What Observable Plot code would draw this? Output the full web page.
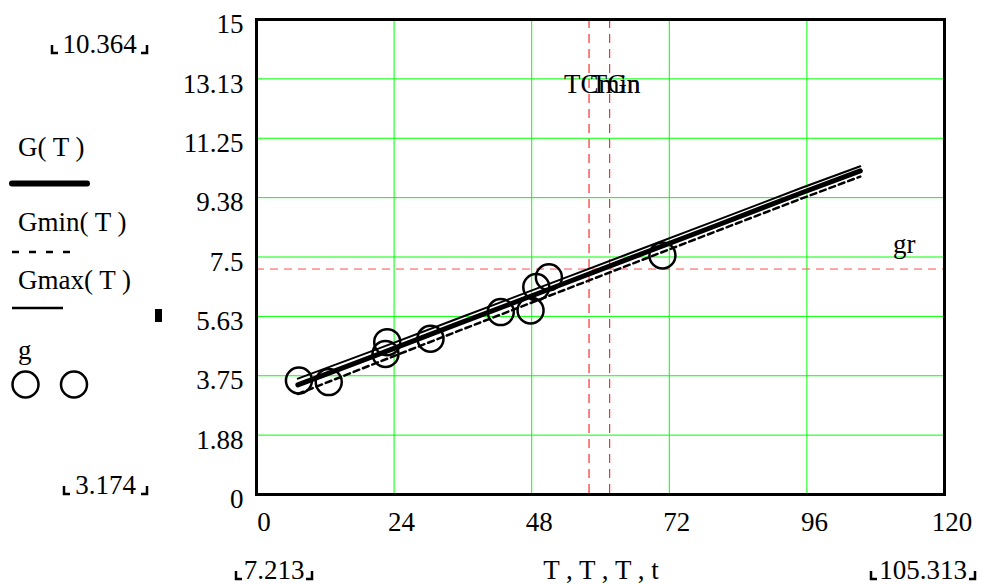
<!DOCTYPE html>
<html>
<head>
<meta charset="utf-8">
<script src="https://cdn.jsdelivr.net/npm/d3@7"></script>
<script src="https://cdn.jsdelivr.net/npm/@observablehq/plot@0.6"></script>
<style>
  html, body { margin: 0; padding: 0; background: #ffffff; }
  #chart { width: 982px; height: 584px; }
</style>
</head>
<body>
<div id="chart"></div>
<script>
// ---- data ----
const xTicks = [0, 24, 48, 72, 96, 120];
const yTicks = [0, 1.875, 3.75, 5.625, 7.5, 9.375, 11.25, 13.125, 15];
const yTickLabels = ["0", "1.88", "3.75", "5.63", "7.5", "9.38", "11.25", "13.13", "15"];

const T = [7.213, 20, 35, 50, 65, 80, 95, 105.313];
const G = [3.46, 4.34, 5.38, 6.41, 7.45, 8.48, 9.52, 10.22];
const Gmin = [3.174, 4.09, 5.15, 6.20, 7.25, 8.30, 9.34, 10.04];
const Gmax = [3.66, 4.52, 5.55, 6.58, 7.61, 8.64, 9.68, 10.364];

const t = [7.4, 12.6, 22.8, 22.5, 30.35, 42.6, 47.8, 48.8, 51.0, 70.8];
const g = [3.60, 3.55, 4.81, 4.44, 4.92, 5.76, 5.81, 6.55, 6.86, 7.55];

const xMarkers = [58.0, 61.6];
const xMarkerLabels = ["TCmin", "TGn"];
const gr = 7.12;
const grLabel = "gr";

const legendLabels = ["G( T )", "Gmin( T )", "Gmax( T )", "g"];
const cornerLabels = { yMax: "10.364", yMin: "3.174", xMin: "7.213", xMax: "105.313", xTitle: "T , T , T , t" };

// ---- build ----
const font = "'Liberation Serif', 'Times New Roman', serif";
const lineRows = T.map((d, i) => ({ T: d, G: G[i], Gmin: Gmin[i], Gmax: Gmax[i] }));
const pts = t.map((d, i) => ({ t: d, g: g[i] }));

const plot = Plot.plot({
  width: 982,
  height: 584,
  marginLeft: 256,
  marginRight: 38,
  marginTop: 19,
  marginBottom: 90,
  style: { fontFamily: font, fontSize: "27px", color: "black", background: "white", overflow: "visible" },
  x: { domain: [0, 120], axis: null },
  y: { domain: [0, 15], axis: null },
  marks: [
    Plot.gridX(xTicks, { stroke: "#00ff00", strokeOpacity: 1, strokeWidth: 1 }),
    Plot.gridY(yTicks, { stroke: "#00ff00", strokeOpacity: 1, strokeWidth: 1 }),
    Plot.ruleX(xMarkers, { stroke: "#ff0000", strokeWidth: 1, strokeDasharray: "9,6" }),
    Plot.ruleY([gr], { stroke: "#ff4d4d", strokeWidth: 1, strokeDasharray: "8,6" }),
    Plot.line(lineRows, { x: "T", y: "Gmin", stroke: "black", strokeWidth: 2.5, strokeDasharray: "6,4" }),
    Plot.line(lineRows, { x: "T", y: "Gmax", stroke: "black", strokeWidth: 2 }),
    Plot.line(lineRows, { x: "T", y: "G", stroke: "black", strokeWidth: 5 }),
    Plot.dot(pts, { x: "t", y: "g", r: 13, stroke: "black", strokeWidth: 2.5, fill: "none" }),
    Plot.text([xMarkers[0]], { x: d => d, frameAnchor: "top", dy: 54, dx: -25, textAnchor: "start", text: () => xMarkerLabels[0], fontSize: 27, fontFamily: font, fill: "black" }),
    Plot.text([xMarkers[1]], { x: d => d, frameAnchor: "top", dy: 54, dx: -19, textAnchor: "start", text: () => xMarkerLabels[1], fontSize: 27, fontFamily: font, fill: "black" }),
    Plot.text([gr], { y: d => d, frameAnchor: "right", dx: -29, dy: -25, textAnchor: "end", text: () => grLabel, fontSize: 27, fontFamily: font, fill: "black" }),
    Plot.frame({ stroke: "black", strokeWidth: 3 }),
    Plot.axisX({ ticks: xTicks, tickSize: 0, tickPadding: 17, dx: 7.5, tickFormat: d => String(d), label: null, fontSize: 27, fontFamily: font }),
    Plot.axisY({ ticks: yTicks, tickSize: 0, tickPadding: 13, dy: 5, tickFormat: d => yTickLabels[yTicks.indexOf(d)], label: null, fontSize: 27, fontFamily: font })
  ]
});

document.getElementById("chart").appendChild(plot);

// ---- legend & Mathcad-style annotations ----
const svg = d3.select(plot);
const ann = svg.append("g").attr("font-family", font).attr("font-size", 27).attr("fill", "black");

function addText(x, y, s, anchor) {
  ann.append("text").attr("x", x).attr("y", y).attr("text-anchor", anchor || "start").text(s);
}
function bracketed(x0, x1, baseline, s) {
  addText((x0 + x1) / 2, baseline, s, "middle");
  ann.append("path").attr("d", `M${x0},${baseline - 8}V${baseline}H${x0 + 6}`).attr("fill", "none").attr("stroke", "black").attr("stroke-width", 2.5);
  ann.append("path").attr("d", `M${x1},${baseline - 8}V${baseline}H${x1 - 6}`).attr("fill", "none").attr("stroke", "black").attr("stroke-width", 2.5);
}

bracketed(52, 147, 53, cornerLabels.yMax);
bracketed(64, 147, 494, cornerLabels.yMin);
bracketed(236, 312, 579, cornerLabels.xMin);
bracketed(871, 975, 579, cornerLabels.xMax);
addText(601, 579, cornerLabels.xTitle, "middle");

addText(18, 156, legendLabels[0]);
ann.append("line").attr("x1", 12).attr("x2", 87).attr("y1", 183.5).attr("y2", 183.5).attr("stroke", "black").attr("stroke-width", 6).attr("stroke-linecap", "round");
addText(18, 231, legendLabels[1]);
ann.append("line").attr("x1", 12).attr("x2", 72).attr("y1", 252).attr("y2", 252).attr("stroke", "black").attr("stroke-width", 2.5).attr("stroke-dasharray", "7,10");
addText(18, 289, legendLabels[2]);
ann.append("line").attr("x1", 12).attr("x2", 63).attr("y1", 308).attr("y2", 308).attr("stroke", "black").attr("stroke-width", 2.5);
addText(18, 359, legendLabels[3]);
ann.append("circle").attr("cx", 25.5).attr("cy", 384.5).attr("r", 13).attr("fill", "none").attr("stroke", "black").attr("stroke-width", 2.5);
ann.append("circle").attr("cx", 74).attr("cy", 384.5).attr("r", 13).attr("fill", "none").attr("stroke", "black").attr("stroke-width", 2.5);
ann.append("rect").attr("x", 155).attr("y", 309).attr("width", 7).attr("height", 13).attr("fill", "black");
</script>
</body>
</html>
